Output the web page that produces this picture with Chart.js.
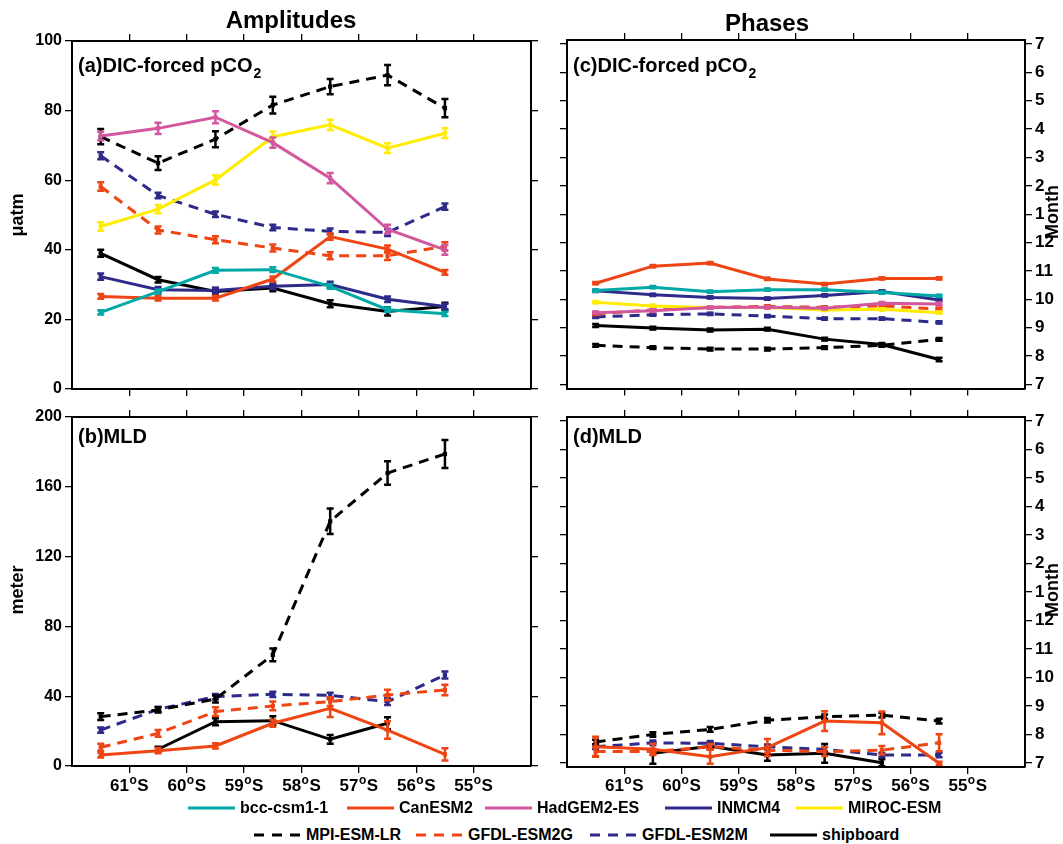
<!DOCTYPE html>
<html>
<head>
<meta charset="utf-8">
<script src="https://cdn.jsdelivr.net/npm/chart.js@4.4.0/dist/chart.umd.min.js"></script>
<style>
  body { margin: 0; background: #fff; font-family: "Liberation Sans", Arial, sans-serif; }
  #wrap { position: relative; width: 1063px; height: 844px; overflow: hidden; }
  #wrap canvas { position: absolute; }
  .leg { position: absolute; height: 20px; display: flex; align-items: center;
         font-weight: bold; font-size: 16px; white-space: nowrap; color: #000; }
  .leg svg { margin-right: 5px; }
</style>
</head>
<body>
<div id="wrap">
  <canvas id="panelA" width="548" height="400" style="left:0;top:0"></canvas>
  <canvas id="panelB" width="548" height="400" style="left:0;top:400px"></canvas>
  <canvas id="panelC" width="515" height="400" style="left:548px;top:0"></canvas>
  <canvas id="panelD" width="515" height="400" style="left:548px;top:400px"></canvas>
</div>
<script>
// latitude of each point (negative = south) and the labelled ticks
const latitudes = [-61.5, -60.5, -59.5, -58.5, -57.5, -56.5, -55.5];
const latTicks = [-61, -60, -59, -58, -57, -56, -55];
const pco2AmpTicks = [0, 20, 40, 60, 80, 100];
const mldAmpTicks = [0, 40, 80, 120, 160, 200];
const monthTicks = [7, 8, 9, 10, 11, 12, 13, 14, 15, 16, 17, 18, 19];

const modelNames = ['bcc-csm1-1', 'CanESM2', 'HadGEM2-ES', 'INMCM4', 'MIROC-ESM',
                    'MPI-ESM-LR', 'GFDL-ESM2G', 'GFDL-ESM2M', 'shipboard'];
const mldModels = ['CanESM2', 'MPI-ESM-LR', 'GFDL-ESM2G', 'GFDL-ESM2M', 'shipboard'];

// (a) amplitude of DIC-forced pCO2 (uatm), rows follow modelNames
const pco2Amp = [
  [22.0, 28.0, 34.1, 34.3, 29.5, 22.8, 21.6],
  [26.6, 26.1, 26.1, 31.6, 43.8, 40.2, 33.5],
  [72.7, 74.9, 78.1, 70.8, 60.6, 45.9, 40.0],
  [32.3, 28.5, 28.3, 29.5, 30.0, 25.8, 23.7],
  [46.7, 51.7, 60.1, 72.5, 75.9, 69.2, 73.5],
  [72.5, 64.9, 71.8, 81.6, 86.9, 90.2, 80.7],
  [58.2, 45.7, 42.9, 40.5, 38.3, 38.3, 41.0],
  [67.0, 55.6, 50.2, 46.4, 45.3, 45.0, 52.4],
  [39.0, 31.4, 28.0, 29.0, 24.5, 22.3, 23.7]
];
const pco2AmpErr = [
  [0.6, 0.6, 0.7, 0.7, 0.7, 0.6, 0.6],
  [0.7, 0.7, 0.7, 0.7, 0.9, 1.0, 0.7],
  [1.2, 1.6, 1.7, 1.5, 1.5, 1.3, 1.4],
  [0.9, 0.8, 0.8, 0.8, 0.8, 0.8, 0.8],
  [1.2, 1.2, 1.3, 1.5, 1.5, 1.4, 1.4],
  [2.2, 2.0, 2.3, 2.4, 2.2, 2.9, 2.6],
  [1.2, 1.0, 1.0, 1.0, 1.0, 1.2, 1.2],
  [1.0, 0.8, 0.8, 0.8, 0.8, 1.0, 0.9],
  [1.0, 0.8, 1.0, 0.9, 1.0, 1.2, 1.1]
];

// (b) amplitude of MLD (meter), rows follow mldModels
const mldAmp = [
  [6.3, 8.8, 11.5, 24.5, 33.1, 20.6, 6.7],
  [28.3, 32.1, 38.4, 63.7, 140.2, 167.9, 178.8],
  [10.7, 18.7, 31.2, 34.4, 36.9, 40.7, 43.6],
  [20.6, 32.5, 39.8, 41.1, 40.5, 36.9, 52.2],
  [null, 9.6, 25.4, 26.0, 15.3, 24.5, null]
];
const mldAmpErr = [
  [1.5, 1.5, 1.5, 2.0, 5.0, 5.0, 3.5],
  [2.0, 1.5, 2.0, 3.6, 7.3, 6.7, 8.0],
  [2.0, 2.0, 2.5, 2.5, 2.5, 3.0, 3.0],
  [1.5, 1.5, 1.5, 1.5, 1.5, 2.0, 2.0],
  [0, 1.5, 2.0, 2.5, 2.5, 3.5, 0]
];

// (c) phase of DIC-forced pCO2 (month), rows follow modelNames
const pco2Phase = [
  [10.31, 10.43, 10.27, 10.34, 10.34, 10.24, 10.12],
  [10.57, 11.17, 11.28, 10.72, 10.54, 10.74, 10.74],
  [9.53, 9.60, 9.71, 9.72, 9.69, 9.86, 9.84],
  [10.30, 10.16, 10.07, 10.03, 10.14, 10.28, 9.98],
  [9.90, 9.77, 9.71, 9.71, 9.63, 9.65, 9.53],
  [8.38, 8.30, 8.25, 8.25, 8.30, 8.38, 8.59],
  [9.49, 9.63, 9.72, 9.75, 9.72, 9.77, 9.66],
  [9.38, 9.46, 9.49, 9.41, 9.32, 9.32, 9.19],
  [9.08, 8.99, 8.92, 8.95, 8.60, 8.41, 7.88]
];
const pco2PhaseErr = [
  [0.04, 0.04, 0.04, 0.04, 0.04, 0.04, 0.04],
  [0.04, 0.04, 0.04, 0.04, 0.04, 0.04, 0.04],
  [0.04, 0.04, 0.04, 0.04, 0.04, 0.05, 0.05],
  [0.04, 0.04, 0.04, 0.04, 0.04, 0.04, 0.04],
  [0.04, 0.04, 0.04, 0.04, 0.04, 0.04, 0.04],
  [0.05, 0.05, 0.05, 0.05, 0.05, 0.05, 0.05],
  [0.04, 0.04, 0.04, 0.04, 0.04, 0.04, 0.05],
  [0.04, 0.04, 0.04, 0.04, 0.04, 0.04, 0.04],
  [0.05, 0.05, 0.05, 0.05, 0.05, 0.05, 0.06]
];

// (d) phase of MLD (month), rows follow mldModels
const mldPhase = [
  [7.57, 7.48, 7.22, 7.54, 8.47, 8.41, 6.99],
  [7.74, 8.00, 8.18, 8.50, 8.62, 8.68, 8.47],
  [7.40, 7.40, 7.57, 7.45, 7.40, 7.45, 7.71],
  [7.57, 7.71, 7.69, 7.57, 7.48, 7.28, 7.28],
  [null, 7.34, 7.59, 7.28, 7.34, 7.01, null]
];
const mldPhaseErr = [
  [0.35, 0.2, 0.25, 0.3, 0.35, 0.4, 0.05],
  [0.08, 0.08, 0.08, 0.08, 0.08, 0.08, 0.08],
  [0.15, 0.1, 0.1, 0.1, 0.15, 0.15, 0.3],
  [0.08, 0.08, 0.08, 0.08, 0.08, 0.08, 0.08],
  [0, 0.37, 0.12, 0.2, 0.33, 0.12, 0]
];

const FONT = '"Liberation Sans", Arial, sans-serif';
const seriesStyle = {
  'bcc-csm1-1': { color: '#00a9a5', dash: [] },
  'CanESM2':    { color: '#ee4513', dash: [] },
  'HadGEM2-ES': { color: '#d2579e', dash: [] },
  'INMCM4':     { color: '#2d2a8a', dash: [] },
  'MIROC-ESM':  { color: '#ffec00', dash: [] },
  'MPI-ESM-LR': { color: '#000000', dash: [10, 7] },
  'GFDL-ESM2G': { color: '#ee4513', dash: [10, 7] },
  'GFDL-ESM2M': { color: '#2d2a8a', dash: [10, 7] },
  'shipboard':  { color: '#000000', dash: [] }
};

Chart.defaults.color = '#000';
Chart.defaults.font.family = FONT;

// vertical error bars with caps, drawn right after each dataset
const errorBars = {
  id: 'errorBars',
  afterDatasetDraw(chart, args) {
    const ds = chart.data.datasets[args.index];
    if (!ds.errors) return;
    const ctx = chart.ctx, area = chart.chartArea, ys = chart.scales.y;
    ctx.save();
    ctx.beginPath();
    ctx.rect(area.left, area.top - 1, area.right - area.left, area.bottom - area.top + 2);
    ctx.clip();
    ctx.strokeStyle = ds.borderColor;
    ctx.lineWidth = 2.5;
    ctx.setLineDash([]);
    args.meta.data.forEach((pt, i) => {
      const v = ds.data[i].y;
      if (v == null) return;
      const e = ds.errors[i];
      const y1 = ys.getPixelForValue(v - e), y2 = ys.getPixelForValue(v + e);
      ctx.beginPath();
      ctx.moveTo(pt.x, y1); ctx.lineTo(pt.x, y2);
      ctx.moveTo(pt.x - 3.5, y1); ctx.lineTo(pt.x + 3.5, y1);
      ctx.moveTo(pt.x - 3.5, y2); ctx.lineTo(pt.x + 3.5, y2);
      ctx.stroke();
    });
    ctx.restore();
  }
};

// titles, panel labels, axis titles and latitude labels with superscript o
const decor = {
  id: 'decor',
  afterDraw(chart, args, o) {
    const ctx = chart.ctx;
    ctx.save();
    ctx.fillStyle = '#000';
    ctx.textBaseline = 'alphabetic';
    if (o.title) {
      ctx.font = 'bold 24px ' + FONT;
      ctx.textAlign = 'center';
      ctx.fillText(o.title, o.titleX, o.titleY);
    }
    ctx.textAlign = 'left';
    ctx.font = 'bold 20px ' + FONT;
    ctx.fillText(o.label, o.labelX, o.labelY);
    if (o.sub) {
      const w = ctx.measureText(o.label).width;
      ctx.font = 'bold 14px ' + FONT;
      ctx.fillText(o.sub, o.labelX + w + 1, o.labelY + 6);
    }
    if (o.latLabels) {
      const xs = chart.scales.x;
      latTicks.forEach(v => {
        const a = String(-v), b = 'o', c = 'S';
        ctx.font = 'bold 17px ' + FONT;
        const wa = ctx.measureText(a).width, wc = ctx.measureText(c).width;
        ctx.font = 'bold 12px ' + FONT;
        const wb = ctx.measureText(b).width;
        let x = xs.getPixelForValue(v) - (wa + wb + wc + 1) / 2;
        ctx.font = 'bold 17px ' + FONT;
        ctx.fillText(a, x, o.latY);
        ctx.font = 'bold 12px ' + FONT;
        ctx.fillText(b, x + wa + 0.5, o.latY - 7);
        ctx.font = 'bold 17px ' + FONT;
        ctx.fillText(c, x + wa + wb + 1, o.latY);
      });
    }
    ctx.translate(o.axisX, o.axisY);
    ctx.rotate(-Math.PI / 2);
    ctx.textAlign = 'center';
    ctx.textBaseline = 'middle';
    ctx.font = 'bold 18px ' + FONT;
    ctx.fillText(o.axisTitle, 0, 0);
    ctx.restore();
  }
};

function edgeAxis(position, ticks, size, showLabels, extra) {
  const horizontal = position === 'top' || position === 'bottom';
  return Object.assign({
    type: 'linear',
    position: position,
    afterBuildTicks: s => { s.ticks = ticks.map(v => ({ value: v })); },
    afterFit: s => { if (horizontal) s.height = size; else s.width = size; },
    ticks: { display: showLabels, autoSkip: false, padding: 3,
             font: { size: 16, weight: 'bold', lineHeight: 1 } },
    grid: { drawOnChartArea: false, drawTicks: true, tickLength: 7, color: '#000', lineWidth: 1.3 },
    border: { display: true, color: '#000', width: 2 }
  }, extra);
}

function makePanel(id, names, values, errors, yTicks, yRange, labelsRight, area, decorOpts) {
  const canvas = document.getElementById(id);
  const W = canvas.width, H = canvas.height;
  const datasets = names.map((name, k) => {
    const st = seriesStyle[name];
    return {
      label: name,
      data: latitudes.map((x, i) => ({ x: x, y: values[k][i] })),
      errors: errors[k],
      borderColor: st.color,
      backgroundColor: st.color,
      borderWidth: 3,
      borderDash: st.dash,
      pointStyle: 'rect',
      pointRadius: 3,
      pointBorderWidth: 0,
      pointBackgroundColor: st.color,
      tension: 0,
      fill: false,
      spanGaps: false
    };
  });
  const yFmt = labelsRight ? { callback: v => ((v - 1) % 12) + 1 } : {};
  const yLeft = edgeAxis('left', yTicks, area.l, !labelsRight, { min: yRange[0], max: yRange[1] });
  const yRight = edgeAxis('right', yTicks, W - area.r, labelsRight, { min: yRange[0], max: yRange[1] });
  const lab = labelsRight ? yRight : yLeft;
  lab.ticks = Object.assign(lab.ticks, yFmt, { font: { size: labelsRight ? 17 : 16, weight: 'bold', lineHeight: 1 } });
  return new Chart(canvas, {
    type: 'line',
    data: { datasets: datasets },
    options: {
      responsive: false,
      animation: false,
      layout: { padding: 0 },
      scales: {
        x: edgeAxis('bottom', latTicks, H - area.b, false, { min: -62, max: -54 }),
        xTop: edgeAxis('top', latTicks, area.t, false, { min: -62, max: -54 }),
        y: yLeft,
        y2: yRight
      },
      plugins: { legend: { display: false }, tooltip: { enabled: false }, decor: decorOpts }
    },
    plugins: [errorBars, decor]
  });
}

makePanel('panelA', modelNames, pco2Amp, pco2AmpErr, pco2AmpTicks, [0, 100], false,
  { l: 72, r: 531, t: 41, b: 389 },
  { title: 'Amplitudes', titleX: 291, titleY: 28, label: '(a)DIC-forced pCO', sub: '2',
    labelX: 78, labelY: 72, axisTitle: 'μatm', axisX: 18, axisY: 215 });

makePanel('panelB', mldModels, mldAmp, mldAmpErr, mldAmpTicks, [0, 200], false,
  { l: 72, r: 531, t: 17, b: 366 },
  { label: '(b)MLD', labelX: 78, labelY: 43, axisTitle: 'meter', axisX: 18, axisY: 190,
    latLabels: true, latY: 391 });

makePanel('panelC', modelNames, pco2Phase, pco2PhaseErr, monthTicks, [6.86, 19.14], true,
  { l: 19, r: 477, t: 40, b: 389 },
  { title: 'Phases', titleX: 219, titleY: 31, label: '(c)DIC-forced pCO', sub: '2',
    labelX: 25, labelY: 72, axisTitle: 'Month', axisX: 505, axisY: 212 });

makePanel('panelD', mldModels, mldPhase, mldPhaseErr, monthTicks, [6.86, 19.14], true,
  { l: 19, r: 477, t: 17, b: 367 },
  { label: '(d)MLD', labelX: 25, labelY: 43, axisTitle: 'Month', axisX: 505, axisY: 190,
    latLabels: true, latY: 391 });

// legend in two rows below the panels
const legendRows = [modelNames.slice(0, 5), modelNames.slice(5)];
const legendX = [[188, 347, 485, 665, 796], [254, 416, 590, 770]];
const legendY = [798, 825];
const wrap = document.getElementById('wrap');
legendRows.forEach((row, r) => {
  row.forEach((name, i) => {
    const st = seriesStyle[name];
    const item = document.createElement('div');
    item.className = 'leg';
    item.style.left = legendX[r][i] + 'px';
    item.style.top = legendY[r] + 'px';
    const dash = st.dash.length ? ' stroke-dasharray="10 8"' : '';
    item.innerHTML = '<svg width="47" height="6"><line x1="0" y1="3" x2="47" y2="3" stroke="' +
      st.color + '" stroke-width="3"' + dash + '/></svg><span>' + name + '</span>';
    wrap.appendChild(item);
  });
});
</script>
</body>
</html>
